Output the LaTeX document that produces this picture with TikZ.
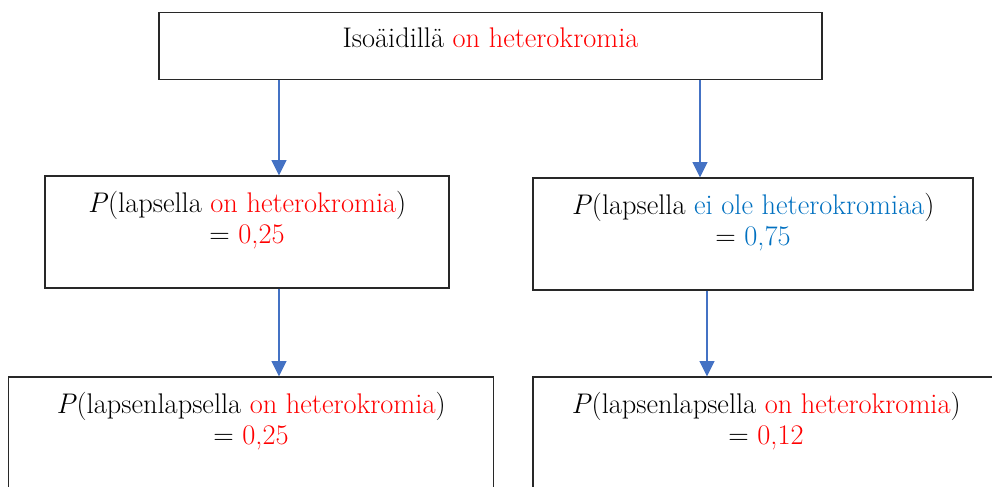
\documentclass[tikz,border=0pt]{standalone}
\usepackage{tikz}
\usetikzlibrary{positioning,arrows.meta}

\definecolor{hred}{RGB}{255,0,0}
\definecolor{hblue}{RGB}{0,112,192}
\definecolor{flowblue}{RGB}{68,114,196}
\definecolor{edge}{RGB}{40,40,40}

\tikzset{
  box/.style={draw=edge, line width=0.9pt, inner sep=0pt},
  txt/.style={anchor=north, align=center, inner sep=0pt, yshift=-11.8pt,
    font=\fontsize{21.3}{22.8}\selectfont},
  flow/.style={draw=flowblue, line width=1.6pt, -{Triangle[length=11.5pt,width=11pt]}}
}

\begin{document}
\begin{tikzpicture}[x=0.75pt, y=-0.75pt]

            \useasboundingbox (0,0) rectangle (992,486);

            % Boxes

            \node[box, minimum width=497.3pt, minimum height=49.7pt] (g) at (490.5,46) {};
            \node[box, minimum width=303pt, minimum height=84pt] (c1) at (247,232) {};
            \node[box, minimum width=330pt, minimum height=84pt] (c2) at (753,234) {};
            \node[box, minimum width=363.8pt, minimum height=105pt] (gc1) at (251,447) {};
            \node[box, minimum width=349.5pt, minimum height=105pt] (gc2) at (766,447) {};

            % Texts

            \node[txt] (g-t) at (g.north) {Isoäidillä \textcolor{hred}{on heterokromia}};
            \node[txt] (c1-t) at (c1.north) {\textit{P}(lapsella \textcolor{hred}{on heterokromia})\\= \textcolor{hred}{0,25}};
            \node[txt] (c2-t) at (c2.north) {\textit{P}(lapsella \textcolor{hblue}{ei ole heterokromiaa})\\= \textcolor{hblue}{0,75}};
            \node[txt] (gc1-t) at (gc1.north) {\textit{P}(lapsenlapsella \textcolor{hred}{on heterokromia})\\= \textcolor{hred}{0,25}};
            \node[txt] (gc2-t) at (gc2.north) {\textit{P}(lapsenlapsella \textcolor{hred}{on heterokromia})\\= \textcolor{hred}{0,12}};

            % Edges

            \coordinate (lane1) at (279,0);
            \coordinate (lane2) at (700,0);
            \coordinate (lane3) at (707,0);

            \draw[flow] (g.south -| lane1) -- (c1.north -| lane1);
            \draw[flow] (g.south -| lane2) -- (c2.north -| lane2);
            \draw[flow] (c1.south -| lane1) -- (gc1.north -| lane1);
            \draw[flow] (c2.south -| lane3) -- (gc2.north -| lane3);

\end{tikzpicture}
\end{document}
